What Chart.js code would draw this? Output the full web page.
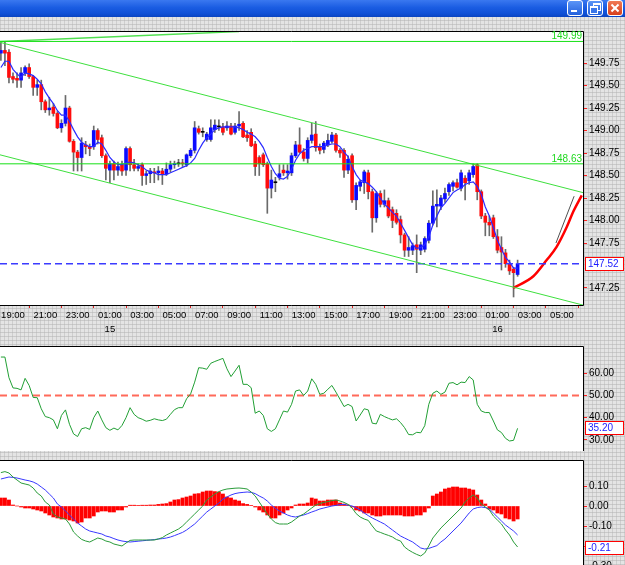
<!DOCTYPE html>
<html><head><meta charset="utf-8">
<script src="https://cdn.jsdelivr.net/npm/chart.js@4.4.1/dist/chart.umd.min.js"></script>
<style>
html,body{margin:0;padding:0;}
body{width:625px;height:565px;overflow:hidden;position:relative;background-color:#e4e4e4;
background-image:repeating-linear-gradient(0deg,rgba(180,180,180,.55) 0 1px,transparent 1px 4px),repeating-linear-gradient(90deg,rgba(180,180,180,.45) 0 1px,transparent 1px 4px);}
#title{position:absolute;left:0;top:0;width:625px;height:17px;background:linear-gradient(#3a78f0,#1a5ce2 45%,#0f50d6 80%,#0a44c0);}
.btn{position:absolute;top:0;width:16px;height:16px;border:1px solid #fff;border-radius:3px;box-sizing:border-box;background:linear-gradient(#5b95f7,#2461dc);}
.close{background:linear-gradient(#f07a55,#d8401c);}
canvas{position:absolute;left:0;}
</style></head>
<body>
<div id="title"></div>
<div class="btn" style="left:567px"><div style="position:absolute;left:3px;top:9px;width:6px;height:2px;background:#fff"></div></div>
<div class="btn" style="left:587px"><div style="position:absolute;left:5px;top:2px;width:6px;height:5px;border:1px solid #fff;border-top-width:2px"></div><div style="position:absolute;left:2px;top:5px;width:6px;height:5px;border:1px solid #fff;border-top-width:2px;background:#3a76e8"></div></div>
<div class="btn close" style="left:607px"><div style="position:absolute;left:2px;top:6px;width:10px;height:2px;background:#fff;transform:rotate(45deg)"></div><div style="position:absolute;left:2px;top:6px;width:10px;height:2px;background:#fff;transform:rotate(-45deg)"></div></div>
<canvas id="main" width="625" height="309" style="top:31px"></canvas>
<canvas id="rsi" width="625" height="105" style="top:346px"></canvas>
<canvas id="macd" width="625" height="115" style="top:460px"></canvas>
<script>
// ---------- DATA ----------
const firstBar = 1; // bar index of first candle (index 4 = 19:00, 15-minute bars)
const xTickBars   = [4,12,20,28,36,44,52,60,68,76,84,92,100,108,116,124,132,140];
const xTickLabels = ['19:00','21:00','23:00','01:00','03:00','05:00','07:00','09:00','11:00','13:00','15:00','17:00','19:00','21:00','23:00','01:00','03:00','05:00'];
const dayLabels   = {28:'15', 124:'16'};
const priceTicks  = [147.25,147.75,148.00,148.25,148.50,148.75,149.00,149.25,149.50,149.75];
const rsiTicks    = [30,40,50,60];
const macdTicks   = [0.10,0.00,-0.10,-0.20,-0.30];

const open = [149.86,149.89,149.87,149.60,149.58,149.56,149.64,149.70,149.60,149.48,
149.51,149.32,149.23,149.26,149.19,149.03,149.08,149.25,148.88,148.76,
148.70,148.84,148.82,148.82,149.00,148.92,148.72,148.56,148.63,148.56,
148.62,148.56,148.80,148.62,148.58,148.62,148.50,148.52,148.54,148.53,
148.55,148.52,148.57,148.62,148.63,148.64,148.62,148.72,148.78,149.02,
148.98,148.90,148.90,149.01,149.04,149.04,149.03,149.05,148.98,149.05,
149.08,148.95,148.98,148.85,148.70,148.73,148.63,148.36,148.42,148.48,
148.56,148.53,148.53,148.72,148.84,148.76,148.69,148.89,148.96,148.82,
148.79,148.84,148.88,148.95,148.78,148.78,148.56,148.72,148.23,148.38,
148.42,148.53,148.32,148.03,148.30,148.18,148.22,148.12,148.08,148.01,
147.84,147.67,147.67,147.73,147.67,147.68,147.78,147.97,148.16,148.16,
148.24,148.32,148.38,148.42,148.36,148.47,148.44,148.51,148.62,148.32,
148.05,147.98,148.03,147.82,147.70,147.64,147.52,147.46,147.40];
const high = [149.99,149.99,149.90,149.64,149.64,149.70,149.72,149.74,149.61,149.56,
149.56,149.34,149.37,149.30,149.21,149.12,149.39,149.27,148.90,148.78,
148.92,148.88,148.85,149.05,149.02,148.95,148.74,148.66,148.66,148.65,
148.66,148.82,148.82,148.68,148.63,148.64,148.55,148.58,148.58,148.60,
148.58,148.64,148.66,148.66,148.68,148.68,148.74,148.80,149.10,149.05,
149.03,148.98,149.12,149.12,149.12,149.08,149.10,149.08,149.08,149.21,
149.10,149.00,149.02,148.88,148.72,148.75,148.65,148.56,148.48,148.62,
148.62,148.62,148.75,148.88,149.03,148.80,148.92,149.08,149.10,148.85,
148.88,148.96,148.98,148.97,148.80,148.80,148.72,148.74,148.42,148.45,
148.56,148.56,148.35,148.32,148.33,148.34,148.25,148.15,148.12,148.05,
147.86,147.82,147.75,147.84,147.76,147.82,148.00,148.33,148.34,148.28,
148.36,148.42,148.44,148.46,148.56,148.50,148.56,148.63,148.63,148.34,
148.08,148.05,148.06,147.90,147.82,147.68,147.56,147.48,147.56];
const low = [149.78,149.72,149.53,149.53,149.48,149.48,149.61,149.58,149.39,149.39,
149.23,149.20,149.17,149.16,149.02,148.98,149.05,148.87,148.55,148.55,
148.55,148.74,148.72,148.79,148.85,148.70,148.45,148.42,148.45,148.50,
148.50,148.50,148.55,148.55,148.55,148.39,148.40,148.42,148.42,148.45,
148.40,148.50,148.54,148.58,148.60,148.60,148.60,148.70,148.75,148.96,
148.93,148.88,148.88,148.98,149.00,148.95,149.00,148.95,148.96,149.00,
148.92,148.88,148.82,148.50,148.50,148.60,148.08,148.25,148.32,148.45,
148.50,148.46,148.50,148.70,148.75,148.66,148.64,148.86,148.77,148.74,
148.75,148.82,148.86,148.76,148.70,148.48,148.52,148.20,148.12,148.33,
148.30,148.24,147.87,147.98,148.15,148.15,148.03,147.92,147.96,147.75,
147.60,147.60,147.62,147.42,147.62,147.65,147.75,147.95,147.93,148.12,
148.20,148.28,148.33,148.36,148.33,148.23,148.40,148.48,148.23,148.02,
147.83,147.83,147.80,147.64,147.45,147.48,147.40,147.15,147.38];
const close = [149.89,149.86,149.59,149.57,149.56,149.64,149.70,149.60,149.48,149.51,
149.32,149.23,149.25,149.19,149.03,149.08,149.25,148.88,148.76,148.70,
148.86,148.82,148.80,149.00,148.90,148.72,148.58,148.63,148.56,148.60,
148.55,148.80,148.62,148.58,148.60,148.50,148.52,148.55,148.53,148.55,
148.52,148.57,148.62,148.63,148.63,148.63,148.73,148.78,149.03,148.98,
148.98,148.96,149.03,149.06,149.04,148.98,149.05,148.96,149.05,149.07,
148.93,148.92,148.83,148.60,148.63,148.62,148.36,148.45,148.42,148.52,
148.53,148.55,148.72,148.84,148.76,148.69,148.89,148.95,148.81,148.78,
148.86,148.89,148.95,148.78,148.75,148.56,148.68,148.23,148.39,148.43,
148.54,148.32,148.03,148.30,148.18,148.22,148.05,148.00,147.98,147.84,
147.67,147.70,147.72,147.68,147.73,147.80,147.97,148.16,148.18,148.25,
148.30,148.40,148.42,148.37,148.53,148.42,148.53,148.60,148.32,148.05,
147.98,147.95,147.82,147.67,147.65,147.52,147.44,147.42,147.52];
const ma = [149.70,149.77,149.77,149.68,149.63,149.59,149.64,149.63,149.61,149.57,
149.52,149.43,149.36,149.30,149.22,149.17,149.17,149.10,149.01,148.93,
148.87,148.84,148.82,148.82,148.87,148.85,148.78,148.70,148.65,148.62,
148.62,148.64,148.65,148.64,148.62,148.60,148.56,148.54,148.53,148.51,
148.51,148.51,148.53,148.55,148.57,148.59,148.61,148.64,148.69,148.78,
148.86,148.92,148.96,149.01,149.03,149.04,149.04,149.04,149.04,149.03,
149.01,148.98,148.96,148.93,148.88,148.81,148.70,148.60,148.52,148.47,
148.46,148.49,148.57,148.67,148.74,148.78,148.80,148.82,148.82,148.82,
148.82,148.84,148.85,148.85,148.82,148.76,148.71,148.60,148.51,148.45,
148.43,148.41,148.37,148.32,148.25,148.18,148.14,148.09,148.05,147.97,
147.89,147.81,147.73,147.69,147.70,147.73,147.82,147.95,148.05,148.14,
148.19,148.25,148.31,148.34,148.36,148.40,148.42,148.43,148.38,148.29,
148.15,148.05,147.92,147.78,147.68,147.59,147.54,147.47,147.47];
const rsi = [67.3,67.3,58,53.4,53.2,52.5,57.7,54.5,49.1,49,
44,40.5,40,39,35,41,43.5,37,32.7,31.5,
35,35.5,34.7,40,43,39,35.5,34.3,35.3,34.5,
36.5,40,44.5,41.5,40,39.3,38.4,38.8,39.5,39,
38.7,39.3,41.5,43.6,44.5,44.5,48.5,50.7,56,62.5,
62.3,61.8,64.5,65.3,66,66.7,62,58.5,61,63.6,
55,55,53.5,42,43,41,35,33.8,35,39,
43,42.5,46,52,52.5,50,52,57.5,55,50.5,
51,52.8,54.5,51.5,48.3,45,46,45,38.5,41.2,
44,43.5,37.5,37.2,41.5,40.5,39.7,39,39.5,37.8,
35.5,32.4,32.3,33.4,33.2,36.4,46,51,52,50.5,
51.5,55.5,55.8,54.8,56,55.8,58.5,57,46,43,
42.3,42.3,38.5,34.5,33.3,30.7,29.5,29.8,35.2];
const macdHist = [0.04,0.04,0.03,0.005,0,-0.005,-0.01,-0.01,-0.015,-0.02,
-0.025,-0.035,-0.045,-0.055,-0.06,-0.065,-0.065,-0.07,-0.075,-0.085,
-0.08,-0.06,-0.06,-0.05,-0.03,-0.025,-0.025,-0.03,-0.03,-0.02,
-0.02,-0.005,0.004,0.004,0.003,0.004,0.004,0.005,0.005,0.008,
0.01,0.012,0.02,0.03,0.032,0.04,0.045,0.05,0.06,0.062,
0.07,0.075,0.075,0.072,0.07,0.06,0.045,0.04,0.03,0.025,
0.012,0.008,0.003,-0.005,-0.02,-0.03,-0.045,-0.06,-0.06,-0.045,
-0.035,-0.02,-0.01,0.005,0.01,0.01,0.015,0.04,0.035,0.025,
0.025,0.03,0.03,0.03,0.015,0.01,0.005,-0.005,-0.02,-0.025,
-0.035,-0.035,-0.045,-0.05,-0.05,-0.045,-0.045,-0.045,-0.045,-0.045,
-0.05,-0.05,-0.05,-0.045,-0.045,-0.03,-0.01,0.05,0.06,0.07,
0.085,0.09,0.095,0.095,0.09,0.09,0.085,0.08,0.055,0.03,
0.01,-0.015,-0.02,-0.035,-0.04,-0.06,-0.065,-0.075,-0.065];
const macdMain = [0.167,0.172,0.165,0.145,0.13,0.115,0.11,0.105,0.09,0.065,
0.05,0.02,0.005,-0.04,-0.055,-0.06,-0.065,-0.09,-0.13,-0.15,
-0.167,-0.175,-0.18,-0.17,-0.16,-0.165,-0.175,-0.18,-0.19,-0.195,
-0.2,-0.185,-0.172,-0.17,-0.17,-0.17,-0.17,-0.17,-0.17,-0.165,
-0.158,-0.145,-0.135,-0.125,-0.115,-0.1,-0.08,-0.06,-0.04,-0.02,
0,0.03,0.045,0.06,0.072,0.08,0.085,0.087,0.089,0.09,
0.088,0.085,0.07,0.05,0.02,-0.01,-0.04,-0.065,-0.083,-0.09,
-0.09,-0.09,-0.08,-0.065,-0.05,-0.04,-0.025,-0.01,0.005,0.012,
0.018,0.022,0.027,0.03,0.025,0.018,0.008,-0.01,-0.038,-0.055,
-0.065,-0.072,-0.1,-0.125,-0.132,-0.14,-0.147,-0.155,-0.168,-0.175,
-0.205,-0.22,-0.232,-0.242,-0.25,-0.235,-0.2,-0.16,-0.135,-0.11,
-0.09,-0.07,-0.05,-0.03,-0.01,0.02,0.04,0.055,0.04,0.01,
-0.005,-0.02,-0.05,-0.07,-0.09,-0.12,-0.145,-0.18,-0.205];
const macdSignal = [0.135,0.14,0.145,0.143,0.14,0.135,0.13,0.126,0.12,0.11,
0.095,0.08,0.06,0.04,0.01,-0.005,-0.025,-0.045,-0.065,-0.085,
-0.1,-0.115,-0.125,-0.13,-0.135,-0.14,-0.15,-0.155,-0.163,-0.17,
-0.175,-0.178,-0.18,-0.178,-0.176,-0.174,-0.172,-0.17,-0.168,-0.165,
-0.163,-0.16,-0.155,-0.148,-0.14,-0.132,-0.12,-0.105,-0.09,-0.07,
-0.05,-0.03,-0.015,0,0.015,0.035,0.045,0.055,0.062,0.066,
0.068,0.07,0.068,0.062,0.05,0.04,0.025,0.005,-0.012,-0.025,
-0.035,-0.045,-0.052,-0.055,-0.05,-0.045,-0.038,-0.03,-0.023,-0.015,
-0.01,-0.005,0,0.003,0.007,0.008,0.004,0,-0.008,-0.02,
-0.035,-0.048,-0.06,-0.07,-0.08,-0.09,-0.105,-0.12,-0.135,-0.15,
-0.16,-0.17,-0.18,-0.195,-0.21,-0.215,-0.212,-0.205,-0.198,-0.18,
-0.165,-0.145,-0.125,-0.105,-0.085,-0.06,-0.035,-0.015,-0.008,-0.005,
-0.008,-0.015,-0.035,-0.055,-0.075,-0.095,-0.11,-0.125,-0.145];

// drawn objects (bar index / value pairs)
const xRange = [0.78, 145.2];
const channelUpper = [149.98, 148.31];
const channelLower = [148.73, 147.06];
const fanX = [0.78, 60.0], fanY = [149.99, 150.10];
const levelHigh = 149.99, levelLow = 148.63;
const lastPrice = 147.52, lastRsi = 35.20, lastMacd = -0.21;
const forecastX = [127.9,132.9,136.2,138.7,141.2,142.8,144.9];
const forecastY = [147.25,147.38,147.56,147.71,147.93,148.10,148.28];
const guideX = [138.5,143.0], guideY = [147.75,148.27];

// ---------- HELPERS ----------
const idx = open.map((_, k) => firstBar + k);
const pts = (xs, ys) => xs.map((x, k) => ({x, y: ys[k]}));
const series = arr => idx.map((x, k) => ({x, y: arr[k]}));
const hline = v => [{x: xRange[0], y: v}, {x: xRange[1], y: v}];
const FONT = 'Liberation Sans, Arial, sans-serif';

const framePlugin = {
  id: 'frame',
  beforeDraw(chart) {
    const a = chart.chartArea, c = chart.ctx;
    c.save(); c.fillStyle = '#fff';
    c.fillRect(a.left, a.top, a.right - a.left, a.bottom - a.top);
    c.restore();
  },
  afterDraw(chart) {
    const a = chart.chartArea, c = chart.ctx, o = chart.options.plugins.frame || {};
    c.save(); c.strokeStyle = '#000'; c.lineWidth = 1; c.beginPath();
    c.moveTo(a.left, a.top + 0.5); c.lineTo(a.right + 0.5, a.top + 0.5);
    c.lineTo(a.right + 0.5, a.bottom + 0.5);
    if (o.bottom) c.lineTo(a.left, a.bottom + 0.5);
    c.stroke();
    // level texts
    (o.levels || []).forEach(l => {
      const y = chart.scales.y.getPixelForValue(l.v);
      c.font = '10px ' + FONT; c.fillStyle = l.color; c.textAlign = 'right'; c.textBaseline = 'bottom';
      c.fillText(l.text, a.right - 1, y);
    });
    if (o.box) {
      const y = Math.round(chart.scales.y.getPixelForValue(o.box.v));
      c.fillStyle = '#fff'; c.fillRect(585, y - 6, 39, 13);
      c.strokeStyle = '#ff0000'; c.strokeRect(585.5, y - 6.5, 38, 13);
      c.font = '10px ' + FONT; c.fillStyle = '#1a1aff'; c.textAlign = 'left'; c.textBaseline = 'middle';
      c.fillText(o.box.text, 588, y + 0.5);
    }
    c.restore();
  }
};
Chart.register(framePlugin);

function xAxis(display) {
  return {
    type: 'linear', min: xRange[0], max: xRange[1], offset: false, display,
    grid: {drawOnChartArea: false, drawTicks: true, tickLength: 3, color: '#e02020'},
    border: {display: false},
    ticks: {autoSkip: false, maxRotation: 0, minRotation: 0, color: '#000', padding: 1,
      font: {family: FONT, size: 9.5, lineHeight: 1.4},
      callback: (v) => { const k = xTickBars.indexOf(v); if (k < 0) return ''; return dayLabels[v] ? [xTickLabels[k], dayLabels[v]] : xTickLabels[k]; }},
    afterBuildTicks: s => { s.ticks = xTickBars.map(v => ({value: v})); },
    afterFit: s => { if (display) s.height = 35; s.paddingLeft = 0; s.paddingRight = 0; }
  };
}
function yAxis(min, max, ticks, fmt) {
  return {
    type: 'linear', position: 'right', min, max,
    grid: {drawOnChartArea: false, drawTicks: true, tickLength: 4, color: '#ff2020'},
    border: {display: false},
    ticks: {color: '#000', padding: 2, font: {family: FONT, size: 10}, callback: v => fmt(v)},
    afterBuildTicks: s => { s.ticks = ticks.map(v => ({value: v})); },
    afterFit: s => { s.width = 42; s.paddingTop = 0; s.paddingBottom = 0; }
  };
}
const common = {
  responsive: false, animation: false, events: [],
  layout: {padding: 0, autoPadding: false}
};
const lineDs = (data, color, width, extra) => Object.assign({type: 'line', data, borderColor: color, borderWidth: width, pointRadius: 0, fill: false, tension: 0, order: 0}, extra || {});

// ---------- MAIN PRICE CHART ----------
new Chart(document.getElementById('main'), {
  type: 'bar',
  data: {datasets: [
    lineDs(hline(levelHigh), '#16e016', 1),
    lineDs(hline(levelLow), '#16e016', 1),
    lineDs(pts(fanX, fanY), '#50e050', 1.5),
    lineDs(pts(xRange, channelUpper), '#3ee03e', 1),
    lineDs(pts(xRange, channelLower), '#3ee03e', 1),
    lineDs(hline(lastPrice), '#3b3bff', 1.5, {borderDash: [7, 4]}),
    lineDs(pts(guideX, guideY), '#505050', 1),
    lineDs(pts(forecastX, forecastY), '#ff0000', 2.5, {cubicInterpolationMode: 'monotone'}),
    lineDs(series(ma), '#2a2aff', 1.2, {order: 1}),
    {type: 'bar', data: idx.map((x, k) => ({x, y: [open[k], close[k]]})), barThickness: 3, minBarLength: 1, grouped: false, order: 5,
      backgroundColor: ctx => { const k = ctx.dataIndex; return close[k] > open[k] ? '#0c0cff' : close[k] < open[k] ? '#ff0c0c' : '#000'; }},
    {type: 'bar', data: idx.map((x, k) => ({x, y: [low[k], high[k]]})), barThickness: 1, grouped: false, order: 6, backgroundColor: '#6a6a6a'}
  ]},
  options: Object.assign({}, common, {
    plugins: {legend: {display: false}, tooltip: {enabled: false},
      frame: {bottom: true, levels: [{v: levelHigh, text: '149.99', color: '#1ed81e'}, {v: levelLow, text: '148.63', color: '#1ed81e'}], box: {v: lastPrice, text: lastPrice.toFixed(2)}}},
    scales: {x: xAxis(true), y: yAxis(147.061, 150.106, priceTicks, v => v.toFixed(2))}
  })
});

// ---------- RSI ----------
new Chart(document.getElementById('rsi'), {
  type: 'line',
  data: {datasets: [
    lineDs(hline(50), '#ff6a5a', 2, {borderDash: [7, 4], order: 1}),
    lineDs(series(rsi), '#22a035', 1)
  ]},
  options: Object.assign({}, common, {
    plugins: {legend: {display: false}, tooltip: {enabled: false}, frame: {bottom: true, box: {v: lastRsi, text: lastRsi.toFixed(2)}}},
    scales: {x: xAxis(false), y: yAxis(24.99, 72.27, rsiTicks, v => v.toFixed(2))}
  })
});

// ---------- MACD ----------
new Chart(document.getElementById('macd'), {
  type: 'bar',
  data: {datasets: [
    lineDs(series(macdMain), '#2a9c3a', 1),
    lineDs(series(macdSignal), '#3838ff', 1),
    {type: 'bar', data: series(macdHist), barThickness: 3.2, grouped: false, order: 3, backgroundColor: '#ff0000'}
  ]},
  options: Object.assign({}, common, {
    plugins: {legend: {display: false}, tooltip: {enabled: false}, frame: {bottom: false, box: {v: lastMacd, text: lastMacd.toFixed(2)}}},
    scales: {x: xAxis(false), y: yAxis(-0.345, 0.23, macdTicks, v => v.toFixed(2))}
  })
});
</script>
</body></html>
